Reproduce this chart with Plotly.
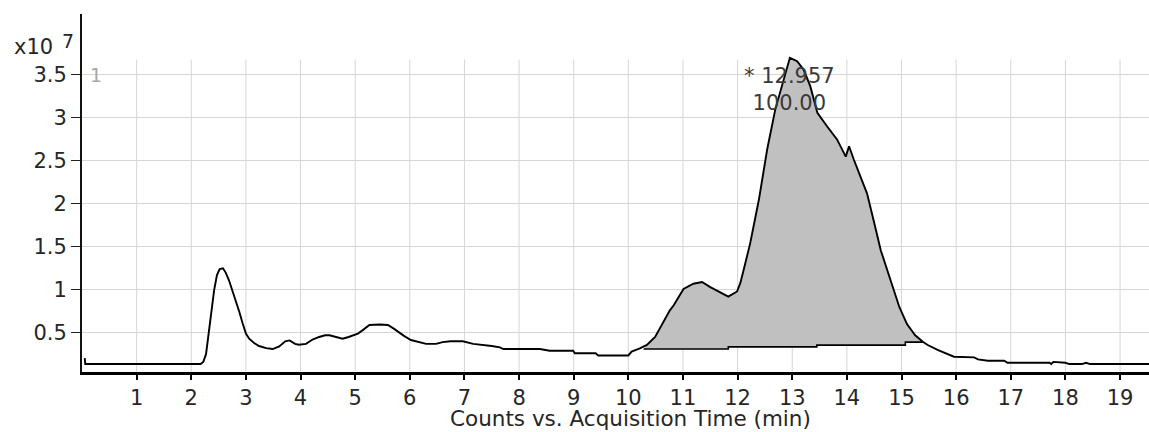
import plotly.graph_objects as go

# Chromatogram trace: acquisition time (min) and counts in units of 1e7
time_min = [
    0.05, 0.06, 2.17, 2.22, 2.27, 2.31, 2.36, 2.42, 2.47, 2.52, 2.58, 2.63, 2.69,
    2.75, 2.81, 2.88, 2.94, 3.00, 3.06, 3.15, 3.24, 3.37, 3.49, 3.61, 3.72, 3.80,
    3.90, 3.97, 4.10, 4.22, 4.34, 4.45, 4.53, 4.65, 4.77, 4.88, 4.95, 5.05, 5.14,
    5.26, 5.45, 5.60, 5.70, 5.78, 5.90, 6.02, 6.15, 6.30, 6.48, 6.60, 6.75, 6.97,
    7.16, 7.34, 7.50, 7.65, 7.71, 8.38, 8.56, 8.99, 9.02, 9.40, 9.45, 10.00, 10.06,
    10.21, 10.34, 10.49, 10.58, 10.64, 10.76, 10.83, 11.01, 11.19, 11.35, 11.50,
    11.68, 11.83, 11.99, 12.05, 12.11, 12.23, 12.39, 12.54, 12.69, 12.84, 12.957,
    13.09, 13.21, 13.33, 13.46, 13.64, 13.82, 13.98, 14.04, 14.13, 14.25, 14.37,
    14.50, 14.62, 14.80, 14.96, 15.10, 15.25, 15.39, 15.48, 15.66, 15.84, 15.96,
    16.33, 16.40, 16.58, 16.88, 16.94, 17.71, 17.74, 17.78, 18.00, 18.07, 18.30,
    18.38, 18.45, 19.60,
]
counts_e7 = [
    0.205, 0.135, 0.135, 0.16, 0.25, 0.45, 0.70, 1.00, 1.17, 1.24, 1.25, 1.20, 1.11,
    1.00, 0.88, 0.74, 0.61, 0.49, 0.43, 0.38, 0.345, 0.32, 0.31, 0.34, 0.40, 0.41,
    0.37, 0.36, 0.37, 0.42, 0.45, 0.47, 0.47, 0.45, 0.43, 0.45, 0.47, 0.49, 0.53,
    0.59, 0.595, 0.59, 0.55, 0.51, 0.46, 0.415, 0.39, 0.37, 0.37, 0.39, 0.40, 0.40,
    0.37, 0.36, 0.345, 0.33, 0.31, 0.31, 0.29, 0.29, 0.26, 0.26, 0.235, 0.235, 0.28,
    0.318, 0.357, 0.45, 0.55, 0.61, 0.76, 0.82, 1.01, 1.07, 1.09, 1.03,
    0.97, 0.92, 0.98, 1.08, 1.23, 1.54, 2.05, 2.63, 3.10, 3.45, 3.70,
    3.66, 3.56, 3.37, 3.06, 2.90, 2.75, 2.55, 2.67, 2.51, 2.32, 2.12,
    1.78, 1.46, 1.11, 0.80, 0.60, 0.47, 0.395, 0.357, 0.30, 0.25, 0.22,
    0.213, 0.19, 0.174, 0.174, 0.15, 0.15, 0.135, 0.16, 0.15, 0.135, 0.135,
    0.15, 0.135, 0.135,
]

# Integration baseline drawn under the integrated peak
base_time = [10.28, 11.83, 11.83, 13.45, 13.45, 15.07, 15.07, 15.39]
base_counts = [0.31, 0.31, 0.335, 0.335, 0.355, 0.355, 0.39, 0.39]

peak_rt = 12.957
peak_label = "* 12.957<br>100.00"

x_ticks = list(range(1, 20))
y_ticks = [0.5, 1, 1.5, 2, 2.5, 3, 3.5]
y_tick_text = ["0.5", "1", "1.5", "2", "2.5", "3", "3.5"]

FONT = "DejaVu Sans"
TXT = "#262626"
y_lo, y_hi = 0.0425, 4.21
x_lo, x_hi = 0.0, 19.53
grid_top = 3.68

# Filled area between chromatogram and integration baseline
seg = [(t, c) for t, c in zip(time_min, counts_e7) if base_time[0] <= t <= base_time[-1]]
fill_x = [base_time[0]] + [t for t, _ in seg] + [base_time[-1]] + base_time[::-1]
fill_y = [base_counts[0]] + [c for _, c in seg] + [base_counts[-1]] + base_counts[::-1]

fig = go.Figure()
fig.add_trace(go.Scatter(
    x=fill_x, y=fill_y, mode="lines", fill="toself",
    fillcolor="#c0c0c0", line=dict(width=0), hoverinfo="skip", showlegend=False,
))
fig.add_trace(go.Scatter(
    x=base_time, y=base_counts, mode="lines",
    line=dict(color="#000000", width=1.6), showlegend=False,
))
fig.add_trace(go.Scatter(
    x=time_min, y=counts_e7, mode="lines",
    line=dict(color="#000000", width=1.9), showlegend=False,
))

# vertical grid only up to the top of the data frame
for t in x_ticks:
    fig.add_shape(type="line", xref="x", yref="y", x0=t, x1=t, y0=y_lo, y1=grid_top,
                  line=dict(color="#d6d6d6", width=1), layer="below")

# peak label
peak_h = max(counts_e7)
fig.add_annotation(x=peak_rt, y=peak_h, xref="x", yref="y", text=peak_label,
                   showarrow=False, yanchor="top", xanchor="center", yshift=-4,
                   font=dict(family=FONT, size=21, color="#3a3a3a"), align="center")

# exponent label and trace index
fig.add_annotation(x=0, y=1, xref="paper", yref="paper", text="x10",
                   showarrow=False, xanchor="right", yanchor="middle",
                   xshift=-27, yshift=-33, font=dict(family=FONT, size=21, color=TXT))
fig.add_annotation(x=0, y=1, xref="paper", yref="paper", text="7",
                   showarrow=False, xanchor="left", yanchor="middle",
                   xshift=-22, yshift=-27, font=dict(family=FONT, size=19, color=TXT))
fig.add_annotation(x=0, y=3.5, xref="paper", yref="y", text="1",
                   showarrow=False, xanchor="left", yanchor="middle",
                   xshift=6, font=dict(family=FONT, size=19, color="#a8a8a8"))

# x axis title
fig.add_annotation(x=(630 - 82) / (1149 - 82), y=0, xref="paper", yref="paper",
                   text="Counts vs. Acquisition Time (min)", showarrow=False,
                   xanchor="center", yanchor="middle", yshift=-46,
                   font=dict(family=FONT, size=21.5, color=TXT))

fig.update_layout(
    width=1149, height=432,
    margin=dict(l=82, r=0, t=14, b=60),
    paper_bgcolor="white", plot_bgcolor="white",
    font=dict(family=FONT, size=21, color=TXT),
    showlegend=False,
    xaxis=dict(
        range=[x_lo, x_hi], tickvals=x_ticks, ticktext=[str(v) for v in x_ticks],
        showgrid=False, zeroline=False,
        showline=True, linecolor="#000000", linewidth=3,
        ticks="outside", ticklen=5, tickwidth=1.5, tickcolor="#000000",
        tickfont=dict(family=FONT, size=21, color=TXT),
    ),
    yaxis=dict(
        range=[y_lo, y_hi], tickvals=y_ticks, ticktext=y_tick_text,
        showgrid=True, gridcolor="#d6d6d6", gridwidth=1, zeroline=False,
        showline=True, linecolor="#111111", linewidth=2,
        ticks="outside", ticklen=9, tickwidth=1.2, tickcolor="#222222",
        tickfont=dict(family=FONT, size=21, color=TXT),
    ),
)

fig.write_html("out.html")
